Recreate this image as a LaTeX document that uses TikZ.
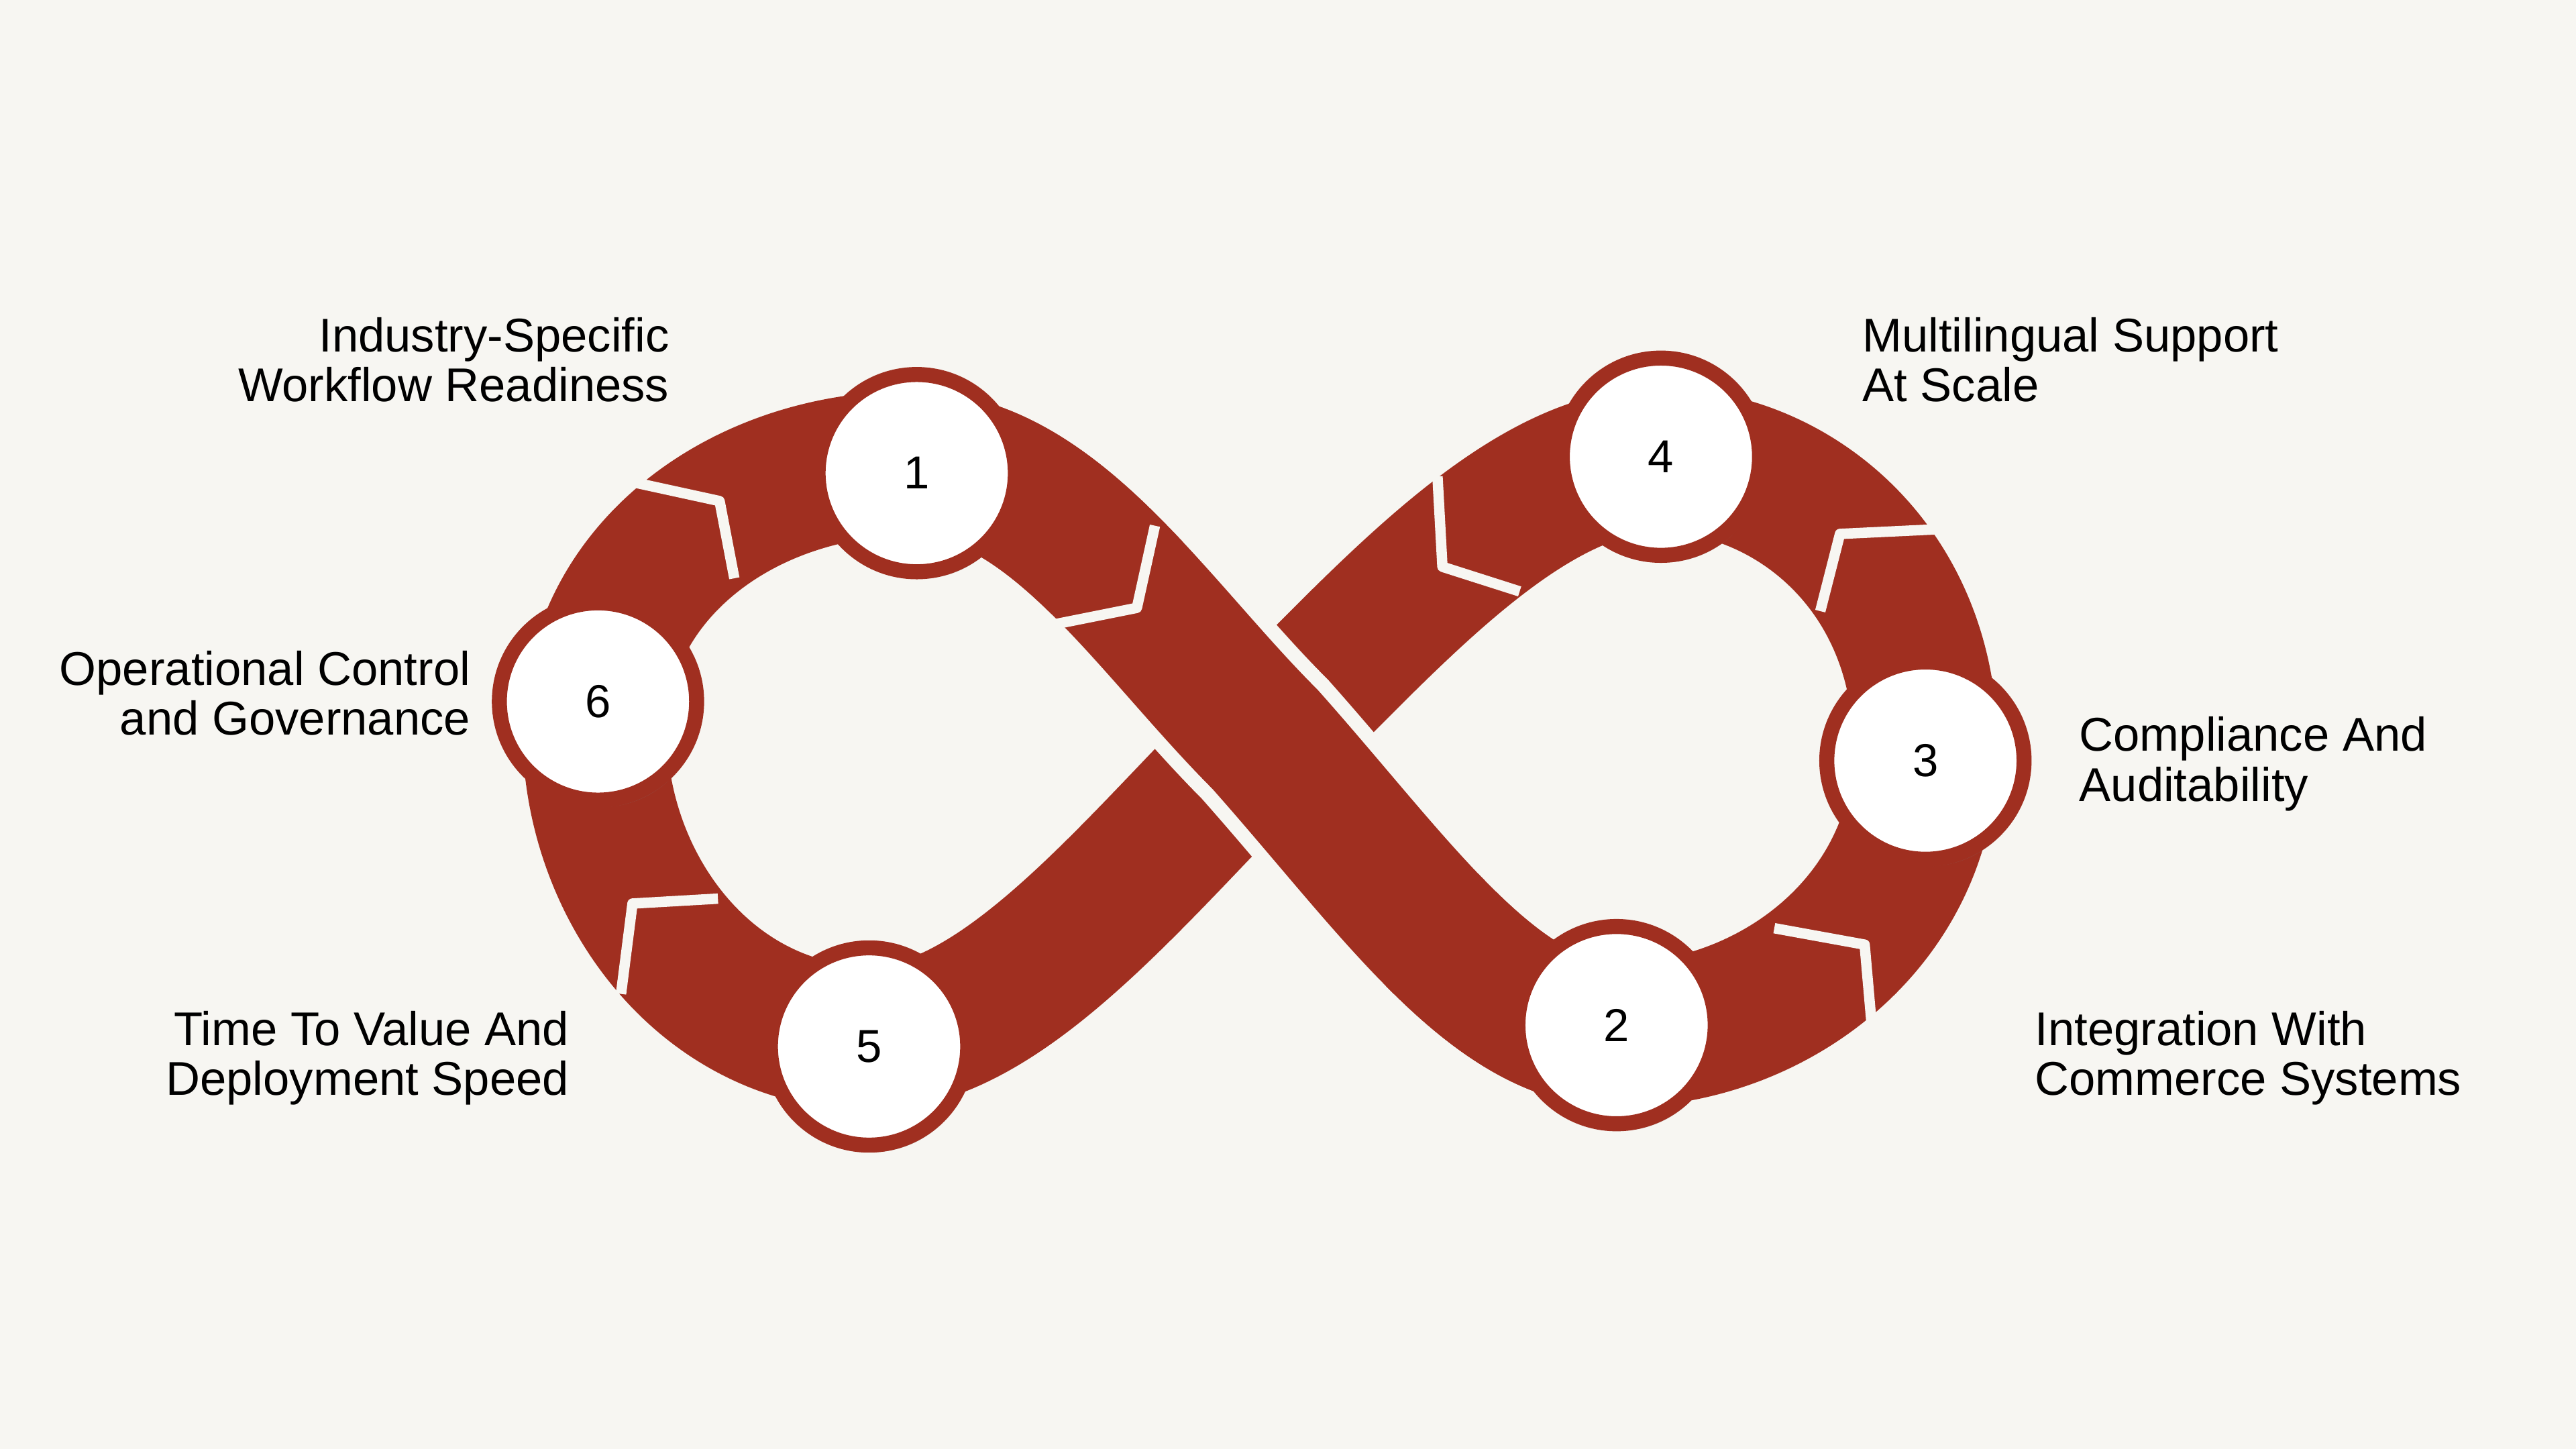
\documentclass[tikz,border=0pt]{standalone}
\usepackage{fontspec}
\setmainfont{Liberation Sans}
\usetikzlibrary{shadows}
\definecolor{bg}{HTML}{F7F6F2}
\definecolor{band}{HTML}{A02F20}
\tikzset{
  num/.style={circle,fill=white!97!bg,draw=band,line width=2.6pt,minimum size=1.2cm,font=\fontsize{8pt}{9pt}\selectfont,drop shadow={shadow xshift=0.6pt,shadow yshift=-1.2pt,opacity=0.35}},
  lab/.style={font=\fontsize{8.2pt}{8.6pt}\selectfont,inner sep=0pt},
  sep/.style={bg,line width=1.8pt,line join=round},
  bandline/.style={band,line width=25pt}
}
\begin{document}
\begin{tikzpicture}[x=0.01cm,y=-0.01cm]
\fill[bg] (0,0) rectangle (1568,882);
\useasboundingbox (0,0) rectangle (1568,882);
\coordinate (C) at (770,450);
\coordinate (T1) at (555,282);
\coordinate (B2) at (985,630);
\draw[bandline] (C) .. controls (850,540) and (910,630) .. (B2)
  .. controls (1080,630) and (1172,560) .. (1172,455)
  .. controls (1172,345) and (1090,280) .. (1010,280)
  .. controls (930,280) and (850,370) .. (C)
  .. controls (690,530) and (610,632) .. (530,632)
  .. controls (430,632) and (362,540) .. (362,445)
  .. controls (362,350) and (450,282) .. (T1)
  .. controls (640,282) and (700,380) .. (C) -- cycle;
\begin{scope}
\clip (640,330) rectangle (900,600);
\draw[bg,line width=30pt] (T1) .. controls (640,282) and (700,380) .. (C) .. controls (850,540) and (910,630) .. (B2);
\end{scope}
\draw[bandline] (T1) .. controls (640,282) and (700,380) .. (C) .. controls (850,540) and (910,630) .. (B2);
\draw[sep] (383,293) -- (438,305) -- (447,352);
\draw[sep] (703,320) -- (692,370) -- (637,381);
\draw[sep] (1183,322) -- (1120,325) -- (1108,372);
\draw[sep] (875,290) -- (878,345) -- (925,360);
\draw[sep] (1080,565) -- (1135,575) -- (1140,632);
\draw[sep] (437,547) -- (385,550) -- (378,605);
\node[num] (n1) at (558,288) {1};
\node[num] (n6) at (364,427) {6};
\node[num] (n5) at (529,637) {5};
\node[num] (n4) at (1011,278) {4};
\node[num] (n3) at (1172,463) {3};
\node[num] (n2) at (984,624) {2};
\node[lab,anchor=east,align=right] (l1) at (408,219) {Industry-Specific\\Workflow Readiness};
\node[lab,anchor=west,align=left] (l4) at (1133,219) {Multilingual Support\\At Scale};
\node[lab,anchor=east,align=right] (l6) at (287,422) {Operational Control\\and Governance};
\node[lab,anchor=west,align=left] (l3) at (1265,465) {Compliance And\\Auditability};
\node[lab,anchor=east,align=right] (l5) at (347,644) {Time To Value And\\Deployment Speed};
\node[lab,anchor=west,align=left] (l2) at (1238,644) {Integration With\\Commerce Systems};
\end{tikzpicture}
\end{document}
